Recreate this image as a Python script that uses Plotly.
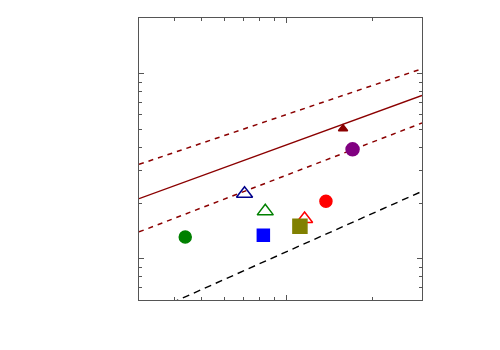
import plotly.graph_objects as go

# Fit lines (endpoints)
line_x = [0.3, 3.0]
fit_y = [2.116, 7.64]
upper_y = [3.24, 10.64]
lower_y = [1.399, 5.42]
ref_x = [0.3, 3.0]
ref_y = [0.483, 2.317]

# Points
pt_names = ["A", "B", "C", "D", "E", "F", "G", "H", "I"]
pt_x = [1.578, 1.705, 1.373, 0.708, 0.838, 1.154, 1.111, 0.825, 0.437]
pt_y = [5.05, 3.905, 2.046, 2.25, 1.807, 1.644, 1.50, 1.341, 1.314]
pt_symbol = ["triangle-up", "circle", "circle", "triangle-up-open", "triangle-up-open",
             "triangle-up-open", "square", "square", "circle"]
pt_color = ["#8b0000", "#800080", "#ff0000", "#00008b", "#008000", "#ff0000",
            "#808000", "#0000ff", "#008000"]
pt_size = [8, 13, 12, 14, 14, 14, 14, 12, 12]

fig = go.Figure()
fig.add_trace(go.Scatter(x=line_x, y=upper_y, mode="lines",
                         line=dict(color="#8b0000", width=1.5, dash="5px,5px"), showlegend=False))
fig.add_trace(go.Scatter(x=line_x, y=fit_y, mode="lines",
                         line=dict(color="#8b0000", width=1.4), showlegend=False))
fig.add_trace(go.Scatter(x=line_x, y=lower_y, mode="lines",
                         line=dict(color="#8b0000", width=1.5, dash="5px,5px"), showlegend=False))
fig.add_trace(go.Scatter(x=ref_x, y=ref_y, mode="lines",
                         line=dict(color="black", width=1.4, dash="7px,5px"), showlegend=False))
for i in range(len(pt_x)):
    fig.add_trace(go.Scatter(x=[pt_x[i]], y=[pt_y[i]], mode="markers", name=pt_names[i],
                             marker=dict(symbol=pt_symbol[i], color=pt_color[i], size=pt_size[i],
                                         line=dict(color=pt_color[i], width=1.5)),
                             showlegend=False))

axis_common = dict(type="log", showgrid=False, zeroline=False, showticklabels=False,
                   ticks="inside", ticklen=5, tickcolor="#555", dtick=1,
                   showline=True, linecolor="#555", linewidth=1.3, mirror="allticks",
                   minor=dict(ticks="inside", ticklen=3, tickcolor="#555", dtick="D1"))
fig.update_xaxes(range=[-0.5229, 0.4771], **axis_common)
fig.update_yaxes(range=[-0.2218, 1.3010], **axis_common)
fig.update_layout(width=500, height=350, margin=dict(l=131, r=86, t=10, b=58),
                  plot_bgcolor="white", paper_bgcolor="white")
fig.write_html("out.html")
